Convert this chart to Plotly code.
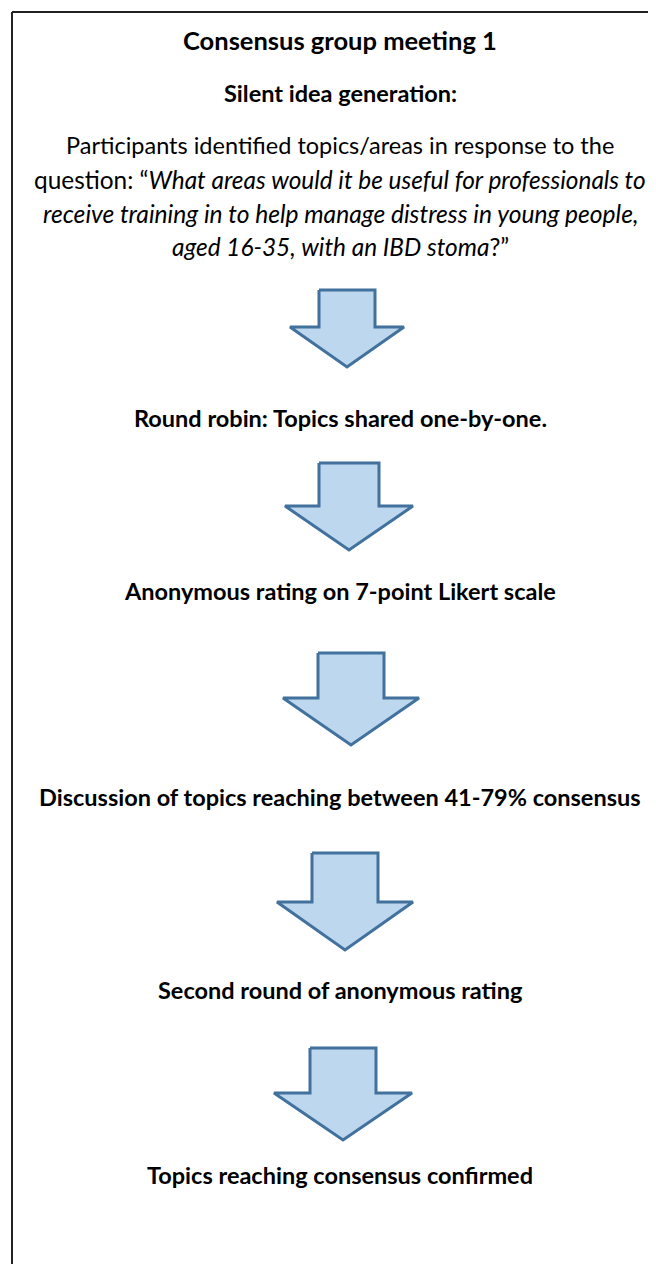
import plotly.graph_objects as go

# ---- content ----
title = "Consensus group meeting 1"
subtitle = "Silent idea generation:"
intro_lines = [
    "Participants identified topics/areas in response to the",
    "question: \u201c<i>What areas would it be useful for professionals to</i>",
    "<i>receive training in to help manage distress in young people,</i>",
    "<i>aged 16-35, with an IBD stoma</i>?\u201d",
]
intro_sizes = [23.5, 24.4, 24.6, 24.4]
steps = [
    "Round robin: Topics shared one-by-one.",
    "Anonymous rating on 7-point Likert scale",
    "Discussion of topics reaching between 41-79% consensus",
    "Second round of anonymous rating",
    "Topics reaching consensus confirmed",
]

# ---- layout (page pixel space; page body has an 8px margin) ----
PAGE_W, PAGE_H = 656, 1264
OFF = 8
CX = 340
title_y = 40
subtitle_y = 93
intro_y = [145, 179, 213, 246]
step_y = [418, 591, 797, 990, 1175]

arrow_cx = [347, 349, 351, 345, 343]
arrow_top = [290, 463, 653, 853, 1048]
arrow_shoulder = [327, 506, 698, 902, 1093]
arrow_tip = [367, 550, 745, 950, 1140]
arrow_half = [57, 64, 68, 68, 69]
shaft_half = [28, 30, 33, 33, 33]

FONT = "Lato"
fig = go.Figure()

for cx, t, s, tp, hw, sh in zip(arrow_cx, arrow_top, arrow_shoulder, arrow_tip, arrow_half, shaft_half):
    xs = [cx - sh, cx + sh, cx + sh, cx + hw, cx, cx - hw, cx - sh, cx - sh]
    ys = [t, t, s, s, tp, s, s, t]
    fig.add_trace(go.Scatter(
        x=xs, y=ys, mode="lines", fill="toself",
        fillcolor="#BDD7EE", line=dict(color="#41719C", width=3),
        hoverinfo="skip", showlegend=False,
    ))

ann = []
ann.append(dict(x=CX, y=title_y, text="<b>" + title + "</b>", font=dict(size=25.5)))
ann.append(dict(x=CX, y=subtitle_y, text="<b>" + subtitle + "</b>", font=dict(size=23.5)))
for txt, y, fs in zip(intro_lines, intro_y, intro_sizes):
    ann.append(dict(x=CX, y=y, text=txt, font=dict(size=fs)))
for txt, y in zip(steps, step_y):
    ann.append(dict(x=CX, y=y, text="<b>" + txt + "</b>", font=dict(size=23.5)))
for a in ann:
    a.update(xref="x", yref="y", showarrow=False, xanchor="center", yanchor="middle")
    a["font"].update(family=FONT, color="#000000")

fig.update_layout(
    width=PAGE_W - OFF, height=PAGE_H - OFF,
    margin=dict(l=0, r=0, t=0, b=0),
    paper_bgcolor="white", plot_bgcolor="white",
    xaxis=dict(range=[OFF, PAGE_W], visible=False, fixedrange=True),
    yaxis=dict(range=[PAGE_H, OFF], visible=False, fixedrange=True),
    annotations=ann,
    shapes=[
        dict(type="line", xref="x", yref="y", x0=12, y0=12, x1=PAGE_W + 5, y1=12,
             line=dict(color="#222222", width=2)),
        dict(type="line", xref="x", yref="y", x0=12, y0=12, x1=12, y1=PAGE_H + 5,
             line=dict(color="#222222", width=2)),
    ],
)

fig.write_html("out.html", config={"displayModeBar": False})
